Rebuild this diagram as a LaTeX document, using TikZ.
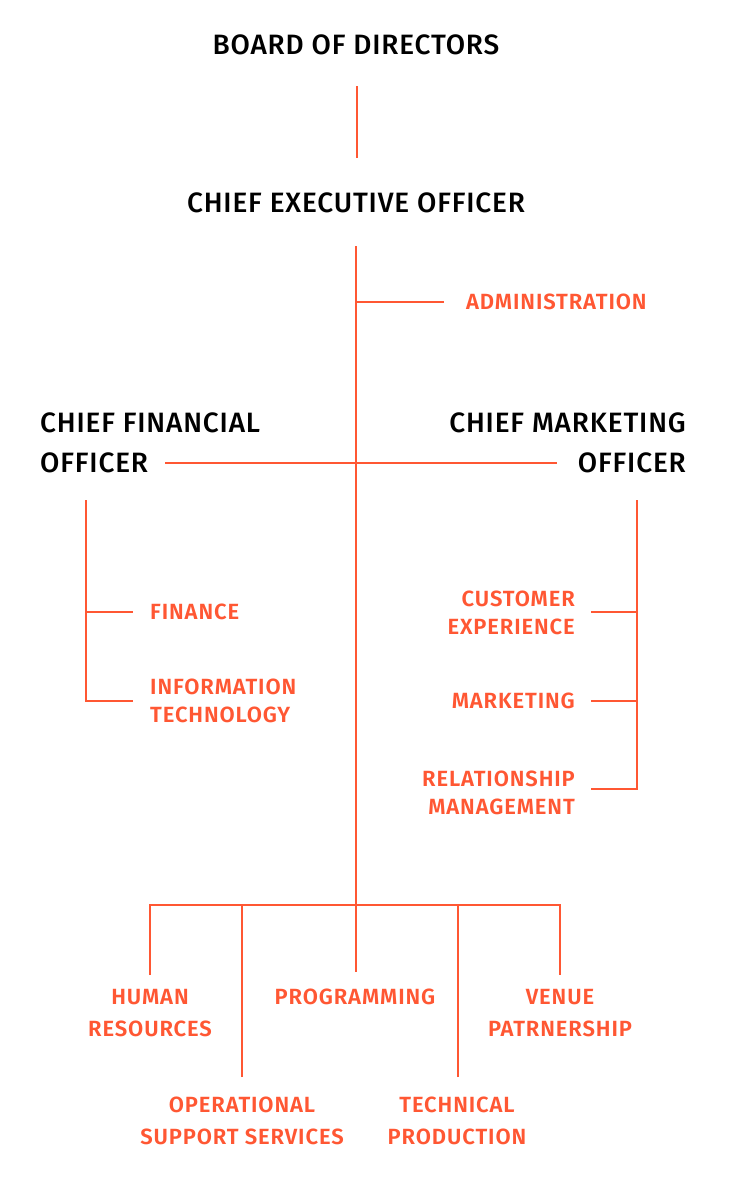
\documentclass[tikz,border=0pt]{standalone}
\usepackage{fontspec}
\newfontfamily\headfamily{Fira Sans}[UprightFont=* Medium, LetterSpace=3]
\newfontfamily\unitfamily{Fira Sans}[UprightFont=* SemiBold, LetterSpace=4]
\newcommand\headfont{\headfamily\fontsize{28}{40}\selectfont}
\newcommand\unitfont{\unitfamily\fontsize{22}{28}\selectfont}
\newcommand\unitwidefont{\unitfamily\fontsize{22}{32}\selectfont}
\definecolor{orgred}{RGB}{255,87,51}
\tikzset{
	head/.style = {font=\headfont, text=black, inner sep=0pt},
	unit/.style = {font=\unitfont, text=orgred, inner sep=0pt},
	unitwide/.style = {unit, font=\unitwidefont},
	link/.style = {draw=orgred, line width=2pt},
}
\begin{document}
\begin{tikzpicture}[x=1pt, y=-1pt]
	\useasboundingbox (0,0) rectangle (736,1178);
	
	\node[head] at (356, 45)   (board) {BOARD OF DIRECTORS};
	\node[head] at (356, 203)  (ceo) {CHIEF EXECUTIVE OFFICER};
	\node[head, align=left, anchor=west] at (40, 443)   (cfo) {CHIEF FINANCIAL\\OFFICER};
	\node[head, align=right, anchor=east] at (686, 443) (cmo) {CHIEF MARKETING\\OFFICER};
	
	\node[unit, anchor=west] at (466, 302) (admin) {ADMINISTRATION};
	
	\node[unit, anchor=west] at (150, 612)  (fin) {FINANCE};
	\node[unit, anchor=west, align=left] at (150, 701)  (it) {INFORMATION\\TECHNOLOGY};
	
	\node[unit, anchor=east, align=right] at (575, 613) (cx) {CUSTOMER\\EXPERIENCE};
	\node[unit, anchor=east] at (575, 701)  (mkt) {MARKETING};
	\node[unit, anchor=east, align=right] at (575, 793) (rel) {RELATIONSHIP\\MANAGEMENT};
	
	\node[unitwide, align=center] at (150, 1013) (hr) {HUMAN\\RESOURCES};
	\node[unitwide] at (355, 997)  (prog) {PROGRAMMING};
	\node[unitwide, align=center] at (560, 1013) (venue) {VENUE\\PATRNERSHIP};
	\node[unitwide, align=center] at (242, 1121) (ops) {OPERATIONAL\\SUPPORT SERVICES};
	\node[unitwide, align=center] at (457, 1121) (tech) {TECHNICAL\\PRODUCTION};
	
	% line ends
	\coordinate (boardend) at (357, 86);
	\coordinate (ceoend) at (357, 158);
	\coordinate (trunk) at (356, 246);
	\coordinate (bus) at (356, 905);
	\coordinate (adminend) at (444, 302);
	\coordinate (cfoend) at (165, 463);
	\coordinate (cmoend) at (557, 463);
	\coordinate (cfobar) at (86, 500);
	\coordinate (finend) at (133, 612);
	\coordinate (itend) at (133, 701);
	\coordinate (cmobar) at (637, 500);
	\coordinate (cxend) at (591, 612);
	\coordinate (mktend) at (591, 701);
	\coordinate (relend) at (591, 789);
	\coordinate (hrend) at (150, 975);
	\coordinate (progend) at (356, 972);
	\coordinate (venueend) at (560, 975);
	\coordinate (opsend) at (242, 1077);
	\coordinate (techend) at (458, 1077);
	
	\draw[link] (boardend) -- (ceoend);
	\draw[link] (trunk) -- (bus);
	\draw[link] (trunk |- adminend) -- (adminend);
	\draw[link] (cfoend) -- (cmoend);
	
	\draw[link] (cfobar) |- (itend);
	\draw[link] (cfobar |- finend) -- (finend);
	
	\draw[link] (cmobar) |- (relend);
	\draw[link] (cmobar |- cxend) -- (cxend);
	\draw[link] (cmobar |- mktend) -- (mktend);
	
	\draw[link] (hrend) |- (bus) -| (venueend);
	\draw[link] (bus) -- (progend);
	\draw[link] (opsend) -- (opsend |- bus);
	\draw[link] (techend) -- (techend |- bus);
\end{tikzpicture}
\end{document}
